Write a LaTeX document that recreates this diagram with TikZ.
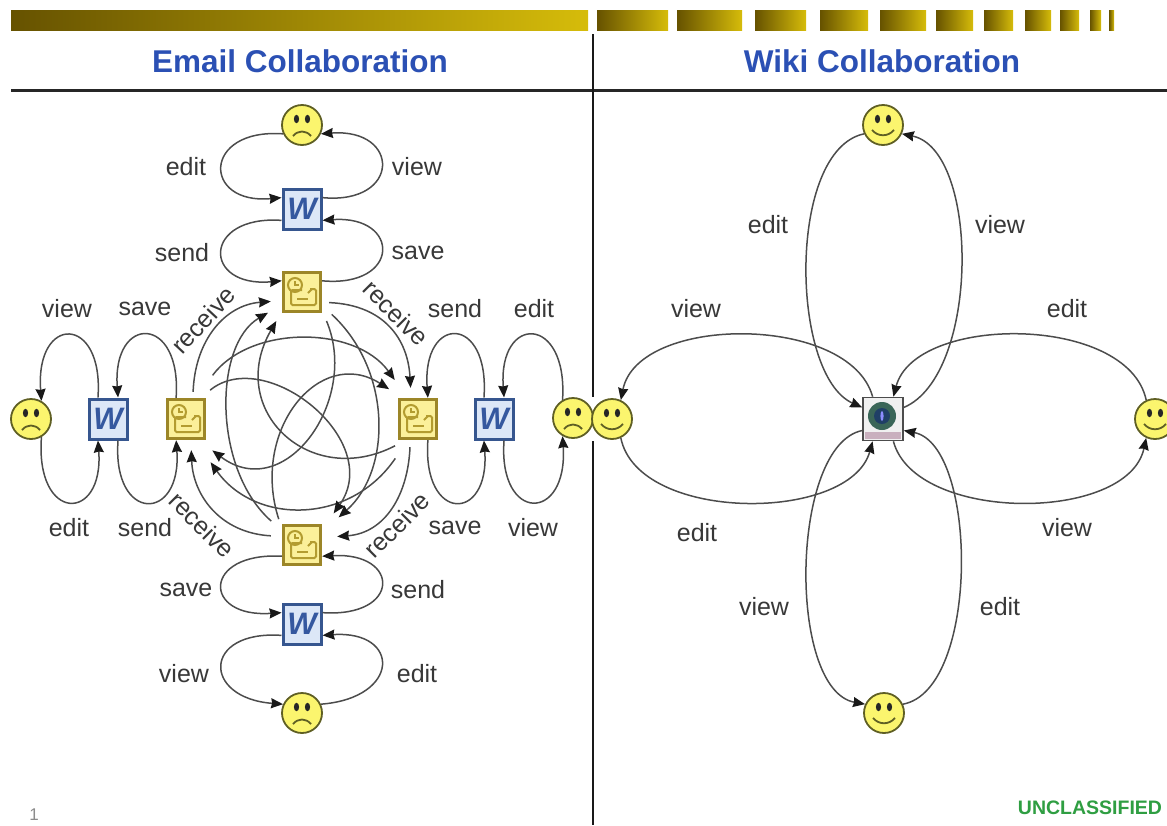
\documentclass[tikz,border=0pt]{standalone}
\usepackage{fontspec}
\setmainfont{Liberation Sans}
\usetikzlibrary{arrows.meta}
\definecolor{barDark}{HTML}{665200}
\definecolor{barGold}{HTML}{D6BC0A}
\definecolor{titleBlue}{HTML}{2B50B4}
\definecolor{faceYellow}{HTML}{FBF56E}
\definecolor{faceEdge}{HTML}{5F5F24}
\definecolor{wordEdge}{HTML}{36568F}
\definecolor{wordFill}{HTML}{DCE7F7}
\definecolor{wordInk}{HTML}{35589F}
\definecolor{mailEdge}{HTML}{9C8628}
\definecolor{mailFill}{HTML}{FBF09A}
\definecolor{mailInk}{HTML}{B39C30}
\definecolor{tagGreen}{HTML}{2F9E42}
\definecolor{hubRing}{HTML}{3A6658}
\definecolor{hubCore}{HTML}{1F3F66}
\definecolor{hubStrip}{HTML}{C9B0BE}
\tikzset{
  lbl/.style={font=\fontsize{25}{25}\selectfont, text=black!78},
  heading/.style={font=\fontsize{31.5}{32}\selectfont\bfseries, text=titleBlue},
  flow/.style={draw=black!70, line width=1.5pt, -{Stealth[length=12pt,width=10pt,inset=1pt,color=black!90]}},
  face/.style={circle, draw=faceEdge, line width=1.8pt, fill=faceYellow, minimum size=40pt, inner sep=0pt},
  wordbox/.style={rectangle, draw=wordEdge, line width=3pt, fill=wordFill, minimum width=38pt, minimum height=40pt, inner sep=0pt,
    text=wordInk, font=\fontsize{31}{31}\selectfont\bfseries\itshape},
  mailbox/.style={rectangle, draw=mailEdge, line width=3.4pt, fill=mailFill, minimum width=37pt, minimum height=39pt, inner sep=0pt},
  hubbox/.style={rectangle, draw=black!70, line width=1.6pt, fill=black!6, minimum width=40pt, minimum height=43pt, inner sep=0pt}
}
\begin{document}
\begin{tikzpicture}[x=1pt,y=-1pt]
  \useasboundingbox (0,0) rectangle (1167,825);

  % top bar
  \shade[left color=barDark, right color=barGold] (11,10) rectangle (588,30);
  \foreach \xa/\xb in {597/668,677/742,755/806,820/868,880/926,936/973,984/1013,1025/1051,1060/1079,1090/1101,1109/1114}
    \shade[left color=barDark, right color=barGold] (\xa,10) rectangle (\xb,30);

  % rules
  \draw[black!85, line width=3pt] (11,90) -- (1167,90);
  \draw[black!90, line width=2.6pt] (593,34) -- (593,397);
  \draw[black!90, line width=2.6pt] (593,441) -- (593,825);

  \node[heading] (titleMail) at (300,61) {Email Collaboration};
  \node[heading] (titleWiki) at (882,61) {Wiki Collaboration};

  % email side
  \node[face] (sadT) at (302,125) {};
  \node[wordbox] (wordT) at (302,209) {W};
  \node[mailbox] (mailT) at (302,292) {};
  \node[mailbox] (mailL) at (186,419) {};
  \node[wordbox] (wordL) at (108,419) {W};
  \node[face] (sadL) at (31,419) {};
  \node[mailbox] (mailR) at (418,419) {};
  \node[wordbox] (wordR) at (494,419) {W};
  \node[face] (sadR) at (573,418) {};
  \node[mailbox] (mailB) at (302,545) {};
  \node[wordbox] (wordB) at (302,624) {W};
  \node[face] (sadB) at (302,713) {};

  % wiki side
  \node[face] (joyT) at (883,125) {};
  \node[face] (joyL) at (612,419) {};
  \node[face] (joyR) at (1155,419) {};
  \node[face] (joyB) at (884,713) {};
  \node[hubbox] (hub) at (883,419) {};

  \foreach \n in {sadT,sadL,sadR,sadB} {
    \begin{scope}[shift={(\n)}]
      \fill[black!85] (-5.5,-6) circle [x radius=2.6, y radius=4.2];
      \fill[black!85] (5.5,-6) circle [x radius=2.6, y radius=4.2];
      \draw[faceEdge, line width=1.8pt] (-9,11) .. controls (-4,5) and (4,5) .. (9,11);
    \end{scope}
  }
  \foreach \n in {joyT,joyL,joyR,joyB} {
    \begin{scope}[shift={(\n)}]
      \fill[black!85] (-5.5,-6) circle [x radius=2.6, y radius=4.2];
      \fill[black!85] (5.5,-6) circle [x radius=2.6, y radius=4.2];
      \draw[faceEdge, line width=1.8pt] (-11,5) .. controls (-5,12) and (5,12) .. (11,5);
    \end{scope}
  }
  \foreach \n in {mailT,mailL,mailR,mailB} {
    \begin{scope}[shift={(\n)}, mailInk, line width=2pt]
      \draw (-7,-7) circle [radius=7];
      \draw (-7,-11) -- (-7,-7) -- (-3,-7);
      \draw[rounded corners=1.5pt] (0,-2) -- (-11,-2) -- (-11,13) -- (14,13) -- (14,-3) -- (8,-3);
      \draw (-5,7) -- (6,7);
      \draw (6,1) -- (10,-3);
    \end{scope}
  }
  \begin{scope}[shift={(hub)}]
    \fill[hubRing] (-1,-3) circle [radius=14];
    \fill[hubCore] (-1,-3) circle [radius=8];
    \fill[white!55!blue] (-1,-3) circle [x radius=1.6, y radius=5];
    \fill[hubStrip] (-18,13) rectangle (18,19.5);
  \end{scope}

  % email loops, top
  \draw[flow] (sadT.205) .. controls (202,128) and (202,205) .. (wordT.151);
  \draw[flow] (wordT.29) .. controls (401,205) and (401,128) .. (sadT.-25);
  \draw[flow] (wordT.209) .. controls (202,215) and (202,288) .. (mailT.151);
  \draw[flow] (mailT.29) .. controls (401,288) and (401,215) .. (wordT.-29);

  % email loops, left
  \draw[flow] (wordL.115) .. controls (104,314) and (35,314) .. (sadL.60);
  \draw[flow] (sadL.-60) .. controls (35,523) and (104,523) .. (wordL.-115);
  \draw[flow] (mailL.115) .. controls (182,314) and (112,314) .. (wordL.65);
  \draw[flow] (wordL.-65) .. controls (112,523) and (182,523) .. (mailL.-115);

  % email loops, right
  \draw[flow] (wordR.115) .. controls (490,314) and (422,314) .. (mailR.65);
  \draw[flow] (mailR.-65) .. controls (422,523) and (490,523) .. (wordR.-115);
  \draw[flow] (sadR.120) .. controls (568,314) and (498,314) .. (wordR.65);
  \draw[flow] (wordR.-65) .. controls (498,523) and (568,523) .. (sadR.-120);

  % email loops, bottom
  \draw[flow] (mailB.209) .. controls (202,552) and (202,618) .. (wordB.151);
  \draw[flow] (wordB.29) .. controls (401,618) and (401,552) .. (mailB.-29);
  \draw[flow] (wordB.209) .. controls (202,630) and (202,698) .. (sadB.155);
  \draw[flow] (sadB.25) .. controls (401,698) and (401,630) .. (wordB.-29);

  % receive arcs
  \draw[flow, shorten <=6pt, shorten >=11pt] (mailL.72) .. controls (195,340) and (225,305) .. (mailT.203);
  \draw[flow, shorten <=7pt, shorten >=10pt] (mailT.-27) .. controls (385,305) and (408,340) .. (mailR.108);
  \draw[flow, shorten <=7pt, shorten >=15pt] (mailR.-110) .. controls (408,495) and (385,533) .. (mailB.20);
  \draw[flow, shorten <=11pt, shorten >=10pt] (mailB.157) .. controls (220,533) and (193,495) .. (mailL.-77);

  \draw[flow, shorten <=14pt, shorten >=16pt] (mailB.144) .. controls (213,470) and (213,345) .. (mailT.212);
  \draw[flow, shorten <=28pt, shorten >=22pt] (mailL.65) .. controls (250,325) and (355,325) .. (mailR.116);
  \draw[flow, shorten <=13pt, shorten >=22pt] (mailT.-34) .. controls (392,370) and (392,470) .. (mailB.33);
  \draw[flow, shorten <=22pt, shorten >=27pt] (mailR.-116) .. controls (350,525) and (255,525) .. (mailL.-67);

  \draw[flow, shorten <=12pt, shorten >=11pt] (mailR.-120) .. controls (310,490) and (225,410) .. (mailT.224);
  \draw[flow, shorten <=10pt, shorten >=16pt] (mailB.141) .. controls (250,430) and (320,345) .. (mailR.126);
  \draw[flow, shorten <=12pt, shorten >=20pt] (mailL.55) .. controls (265,345) and (385,440) .. (mailB.37);
  \draw[flow, shorten <=11pt, shorten >=17pt] (mailT.-43) .. controls (360,400) and (285,505) .. (mailL.-59);

  % wiki loops
  \draw[flow] (joyT.205) .. controls (787,150) and (790,375) .. (hub.151);
  \draw[flow] (hub.29) .. controls (980,375) and (980,150) .. (joyT.-25);
  \draw[flow] (hub.115) .. controls (850,314) and (638,314) .. (joyL.65);
  \draw[flow] (joyL.-65) .. controls (638,523) and (850,523) .. (hub.-115);
  \draw[flow] (joyR.115) .. controls (1128,314) and (915,314) .. (hub.65);
  \draw[flow] (hub.-65) .. controls (915,523) and (1128,523) .. (joyR.245);
  \draw[flow] (hub.209) .. controls (790,445) and (787,690) .. (joyB.155);
  \draw[flow] (joyB.25) .. controls (980,690) and (978,445) .. (hub.-29);

  % email labels
  \node[lbl] (eEditT) at (186,167) {edit};
  \node[lbl] (eViewT) at (417,167) {view};
  \node[lbl] (eSendT) at (182,253) {send};
  \node[lbl] (eSaveT) at (418,253) {save};
  \node[lbl] (eViewL) at (67,309) {view};
  \node[lbl] (eSaveL) at (145,309) {save};
  \node[lbl] (eSendR) at (455,309) {send};
  \node[lbl] (eEditR) at (534,309) {edit};
  \node[lbl] (eEditL) at (69,528) {edit};
  \node[lbl] (eSendL) at (145,528) {send};
  \node[lbl] (eSaveR) at (455,528) {save};
  \node[lbl] (eViewR) at (533,528) {view};
  \node[lbl] (eSaveB) at (186,590) {save};
  \node[lbl] (eSendB) at (418,590) {send};
  \node[lbl] (eViewB) at (184,674) {view};
  \node[lbl] (eEditB) at (417,674) {edit};
  \node[lbl, rotate=47] (eRecvA) at (203,320) {receive};
  \node[lbl, rotate=-45] (eRecvB) at (396,313) {receive};
  \node[lbl, rotate=-45] (eRecvC) at (202,525) {receive};
  \node[lbl, rotate=45] (eRecvD) at (397,525) {receive};

  % wiki labels
  \node[lbl] (wEditA) at (768,225) {edit};
  \node[lbl] (wViewA) at (1000,225) {view};
  \node[lbl] (wViewB) at (696,309) {view};
  \node[lbl] (wEditB) at (1067,309) {edit};
  \node[lbl] (wEditC) at (697,533) {edit};
  \node[lbl] (wViewC) at (1067,528) {view};
  \node[lbl] (wViewD) at (764,607) {view};
  \node[lbl] (wEditD) at (1000,607) {edit};

  \node[font=\fontsize{17}{17}\selectfont, text=black!45] (pageNum) at (34,815) {1};
  \node[font=\fontsize{19.5}{20}\selectfont\bfseries, text=tagGreen] (tagClass) at (1090,808) {UNCLASSIFIED};
\end{tikzpicture}
\end{document}
